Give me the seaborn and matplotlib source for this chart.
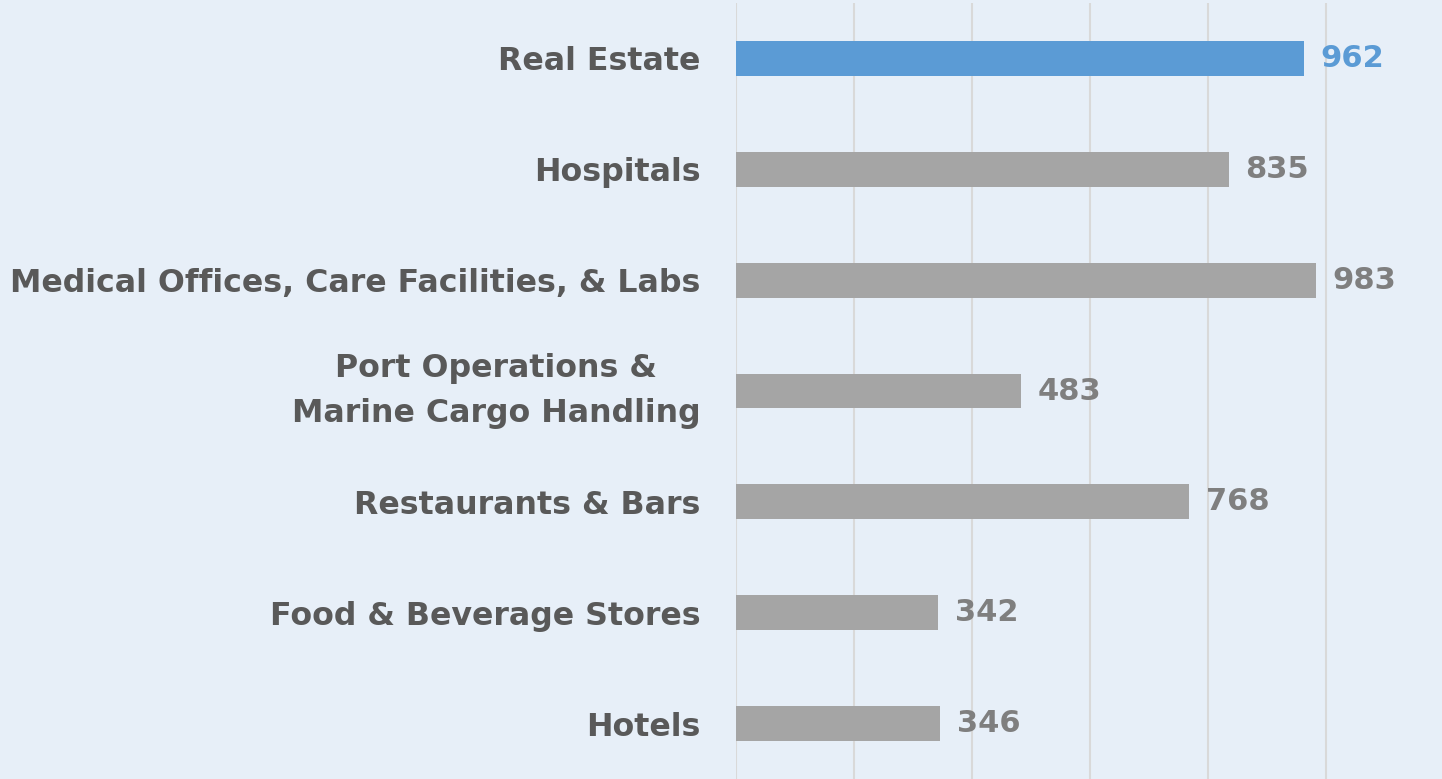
# Horizontal bar chart: counts by industry, Real Estate highlighted

# Import libraries ............................................................

import numpy as np
import pandas as pd
import seaborn as sns
import matplotlib.pyplot as plt


# Data ........................................................................

categories = ["Real Estate",
              "Hospitals",
              "Medical Offices, Care Facilities, & Labs",
              "Port Operations &\nMarine Cargo Handling",
              "Restaurants & Bars",
              "Food & Beverage Stores",
              "Hotels"]
values = [962, 835, 983, 483, 768, 342, 346]
highlight = "Real Estate"

df = pd.DataFrame({"category": categories, "value": values})


# Style .......................................................................

bg = "#E7EFF8"
blue = "#5B9BD5"
grey = "#A5A5A5"
label_grey = "#595959"
value_grey = "#7F7F7F"

sns.set_style("white")
plt.rcParams["font.family"] = ["DejaVu Sans"]

palette = [blue if c == highlight else grey for c in categories]


# Plot ........................................................................

fig = plt.figure(figsize = (14.42, 7.79), dpi = 100)
fig.patch.set_facecolor(bg)
ax = fig.add_axes([736.4 / 1442, 0, 1 - 736.4 / 1442, 776 / 779])
ax.set_facecolor(bg)

sns.barplot(data = df, x = "value", y = "category", hue = "category",
            palette = palette, legend = False, width = 0.315,
            saturation = 1, linewidth = 0, ax = ax)

ax.set_xlim(0, 1196.7)
ax.set_ylim(6.5, -0.5)
ax.set_xticks(np.arange(0, 1001, 200))
ax.set_xticklabels([])
ax.tick_params(axis = "x", length = 0)
ax.tick_params(axis = "y", length = 0, pad = 26)
ax.grid(axis = "x", color = "#D9D9D9", linewidth = 1.5)
ax.set_axisbelow(True)
for s in ax.spines.values():
    s.set_visible(False)
ax.set_xlabel("")
ax.set_ylabel("")

for lab in ax.get_yticklabels():
    lab.set_fontsize(22.75)
    lab.set_fontweight("bold")
    lab.set_color(label_grey)
    lab.set_multialignment("center")
    if "\n" in lab.get_text():
        lab.set_linespacing(1.6)
        lab.set_verticalalignment("center")

# Value labels
for cont, cat in zip(ax.containers, categories):
    col = blue if cat == highlight else value_grey
    ax.bar_label(cont, fmt = "%d", padding = 12, fontsize = 22,
                 fontweight = "bold", color = col, clip_on = False)

plt.savefig("out.png", dpi = 100, facecolor = bg)
